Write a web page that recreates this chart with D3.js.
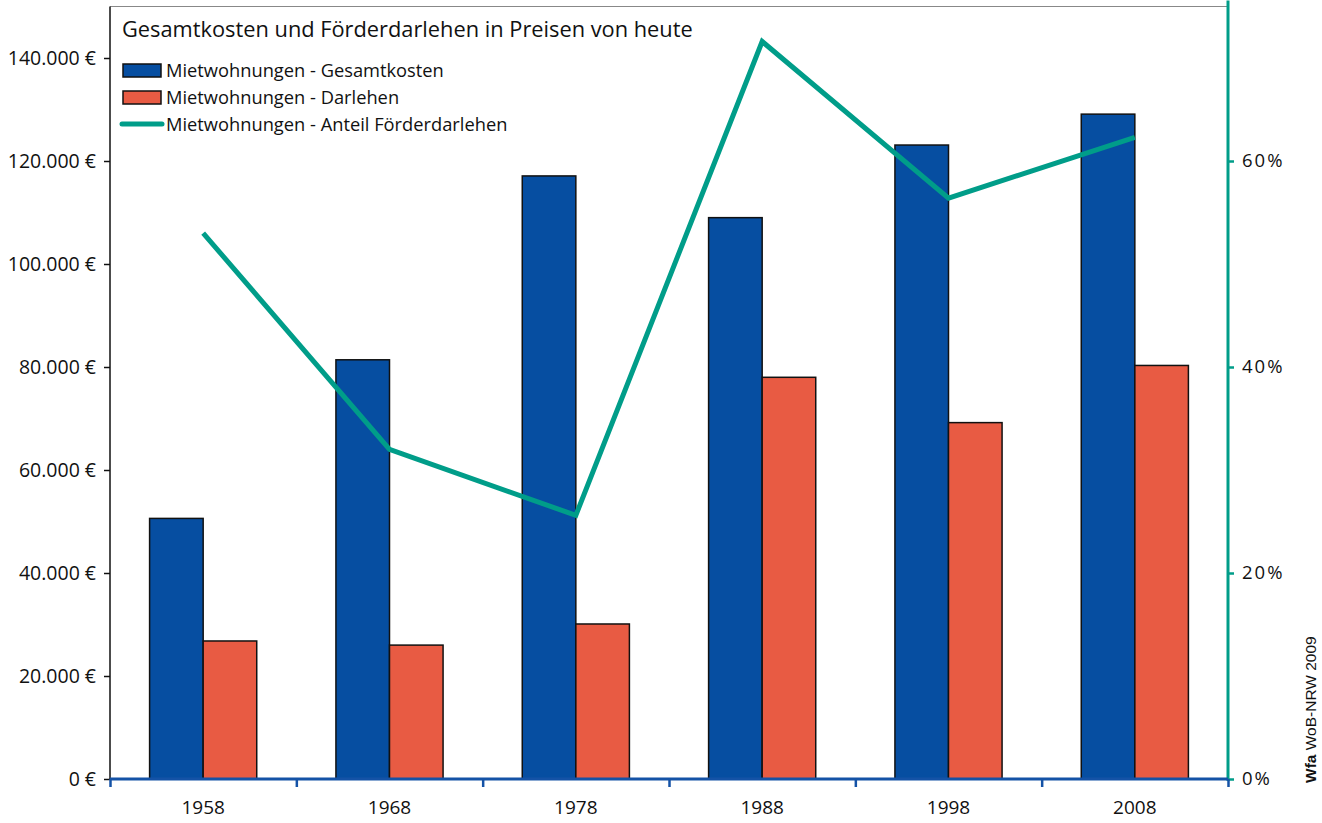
<!DOCTYPE html>
<html><head><meta charset="utf-8">
<script src="https://cdn.jsdelivr.net/npm/d3@7"></script>
<style>
body{margin:0;background:#fff;}
text{font-family:"Open Sans","Noto Sans",sans-serif;fill:#111;}
</style></head>
<body>
<svg id="c" width="1322" height="823"></svg>
<script>
const years = ["1958","1968","1978","1988","1998","2008"];
const gesamtkosten = [50600, 81400, 117100, 109000, 123100, 129100];
const darlehen = [26800, 26000, 30100, 78000, 69200, 80300];
const anteil = [0.530, 0.320, 0.256, 0.716, 0.564, 0.623];
const leftTicks = [0, 20000, 40000, 60000, 80000, 100000, 120000, 140000];
const rightTicks = [0, 0.2, 0.4, 0.6];
const seriesNames = ["Mietwohnungen - Gesamtkosten","Mietwohnungen - Darlehen","Mietwohnungen - Anteil Förderdarlehen"];
const title = "Gesamtkosten und Förderdarlehen in Preisen von heute";

const colBlue = "#064ea1", colRed = "#e85b43", colTeal = "#009d89", colAxisBlue = "#1452a6";
const svg = d3.select("#c");
const L = 110, R = 1228, T = 6.5, B = 779;

const x = d3.scaleBand().domain(years).range([L, R]).paddingInner(0.425).paddingOuter(0.2125);
const xs = d3.scaleBand().domain(["g","d"]).range([0, x.bandwidth()]);
const yL = d3.scaleLinear().domain([0, 150000]).range([B, T]);
const yR = d3.scaleLinear().domain([0, 0.75]).range([B, T]);

// top border
svg.append("line").attr("x1", L).attr("x2", R).attr("y1", T).attr("y2", T).attr("stroke", "#888").attr("stroke-width", 1);

// bars
const g = svg.append("g");
years.forEach((yr, i) => {
  [["g", gesamtkosten[i], colBlue], ["d", darlehen[i], colRed]].forEach(([k, v, c]) => {
    g.append("rect").attr("x", x(yr) + xs(k)).attr("width", xs.bandwidth())
      .attr("y", yL(v)).attr("height", B - yL(v))
      .attr("fill", c).attr("stroke", "#111").attr("stroke-width", 1.5);
  });
});

// line
const line = d3.line().x((d, i) => x(years[i]) + x.bandwidth() / 2).y(d => yR(d));
svg.append("path").datum(anteil).attr("d", line).attr("fill", "none")
  .attr("stroke", colTeal).attr("stroke-width", 5).attr("stroke-linejoin", "miter");

// left axis
const ax = d3.axisLeft(yL).tickValues(leftTicks).tickSize(6).tickPadding(8)
  .tickFormat(d => d3.format(",")(d).replace(/,/g, ".") + " €");
const gl = svg.append("g").attr("transform", `translate(${L},0)`).call(ax);
gl.select(".domain").attr("d", `M0,${T}V${B}`).attr("stroke", "#111").attr("stroke-width", 1.5);
gl.selectAll(".tick line").attr("stroke", "#111").attr("stroke-width", 1.5);
gl.selectAll("text").style("font-size", "19.5px").attr("fill", "#111");

// right axis
const ar = d3.axisRight(yR).tickValues(rightTicks).tickSize(6).tickPadding(8)
  .tickFormat(d => Math.round(d * 100) + "%");
const gr = svg.append("g").attr("transform", `translate(${R},0)`).call(ar);
gr.select(".domain").attr("d", `M0,${T - 6}V${B + 2}`).attr("stroke", colTeal).attr("stroke-width", 3);
gr.selectAll(".tick line").attr("stroke", colTeal).attr("stroke-width", 2.5);
gr.selectAll("text").style("font-size", "18.5px").style("letter-spacing", "2px").attr("fill", "#111");

// bottom axis
const xt = d3.scaleLinear().domain([0, 6]).range([L, R]);
const ab = d3.axisBottom(xt).tickValues(d3.range(7)).tickSize(8).tickFormat("");
const gb = svg.append("g").attr("transform", `translate(0,${B})`).call(ab);
gb.select(".domain").attr("d", `M${L},0H${R}`).attr("stroke", colAxisBlue).attr("stroke-width", 3);
gb.selectAll(".tick line").attr("stroke", colAxisBlue).attr("stroke-width", 2.5);
svg.append("g").selectAll("text").data(years).join("text")
  .attr("x", d => x(d) + x.bandwidth() / 2).attr("y", B + 35)
  .attr("text-anchor", "middle").style("font-size", "19px").text(d => d);

// title
svg.append("text").attr("x", 122).attr("y", 37).style("font-size", "21.8px").text(title);

// legend
const lg = svg.append("g");
[colBlue, colRed].forEach((c, i) => {
  lg.append("rect").attr("x", 123).attr("y", 64 + i * 27).attr("width", 38).attr("height", 13)
    .attr("fill", c).attr("stroke", "#111").attr("stroke-width", 1.5);
});
lg.append("line").attr("x1", 122).attr("x2", 162).attr("y1", 124).attr("y2", 124)
  .attr("stroke", colTeal).attr("stroke-width", 5).attr("stroke-linecap", "round");
seriesNames.forEach((s, i) => {
  lg.append("text").attr("x", 166).attr("y", 77 + i * 27).style("font-size", "18.3px").text(s);
});

// credit
const cr = svg.append("text").attr("transform", "translate(1316,783) rotate(-90)")
  .style("font-size", "15.5px").style("font-family", "'Liberation Sans Narrow','Liberation Sans',sans-serif");
cr.append("tspan").style("font-weight", "bold").text("Wfa");
cr.append("tspan").text(" WoB-NRW 2009");
</script>
</body></html>
